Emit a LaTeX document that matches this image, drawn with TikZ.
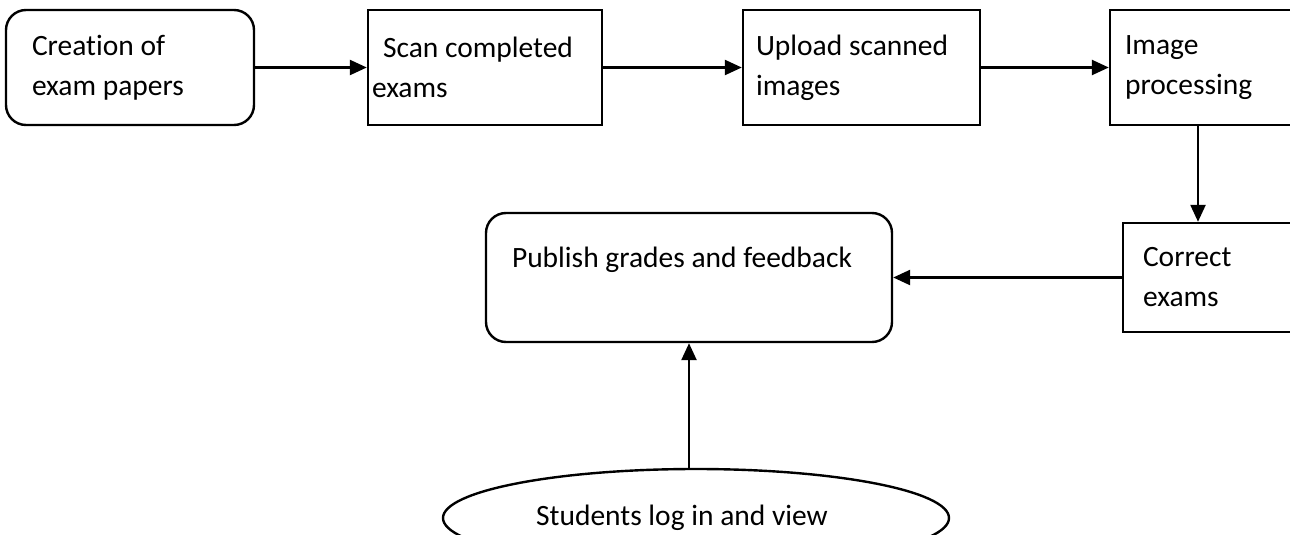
\documentclass[tikz,border=0pt]{standalone}
\usepackage{fontspec}
\setmainfont{Carlito}[Ligatures=NoCommon]
\usetikzlibrary{shapes.geometric,arrows.meta}

\begin{document}
\begin{tikzpicture}[x=1pt,y=-1pt,line width=2.4pt,
 >={Triangle[length=17pt,width=15pt]},
 font=\fontsize{29.5}{40}\selectfont]
 \clip (0,0) rectangle (1290,535);
 \tikzstyle{every node} = [draw,align=flush left,inner ysep=0pt,minimum height=115pt]
 \node (create) at (130,67.5) [rounded corners=20pt,text width=196pt,inner xsep=26pt] {Creation of\\exam papers};
 \node (scan) at (485,67.5) [text width=226pt,inner xsep=4pt] {\hspace*{11pt}Scan completed\\exams};
 \node (upload) at (861.5,67.5) [text width=211pt,inner xsep=13pt] {Upload scanned\\images};
 \node (proc) at (1225,67.5) [text width=200pt,inner xsep=15pt] {Image\\processing};
 \node (correct) at (1231.5,277.5) [text width=177pt,inner xsep=20pt,minimum height=109pt] {Correct\\exams};
 \node (pub) at (689,277.5) [rounded corners=20pt,text width=354pt,inner xsep=26pt,minimum height=129pt] {Publish grades and feedback\\~};
 \node (stud) at (696,518) [ellipse,align=center,inner sep=0pt,minimum width=506pt,minimum height=98pt] {\hspace*{-28pt}Students log in and view};
 \draw [->] (create) -- (scan);
 \draw [->] (scan) -- (upload);
 \draw [->] (upload) -- (proc);
 \draw [->] ([xshift=-27pt]proc.south) -- ([xshift=-27pt]proc.south |- correct.north);
 \draw [->] (correct) -- (pub);
 \draw [->] (stud.north -| pub.south) -- (pub.south);
\end{tikzpicture}
\end{document}
